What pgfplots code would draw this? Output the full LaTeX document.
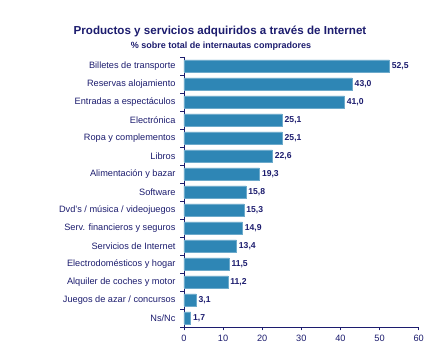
\documentclass[border=0pt]{standalone}
\usepackage{pgfplots}
\pgfplotsset{compat=1.18}
\usepackage{fontspec}
\setmainfont{Liberation Sans}
\definecolor{barblue}{HTML}{2E86B5}
\definecolor{navy}{HTML}{1C1C6E}
\begin{document}
\begin{tikzpicture}[x=1pt,y=1pt]
\useasboundingbox (0,0) rectangle (440,358);
\node[text=navy,font=\fontsize{11.6}{13}\selectfont\bfseries] at (220,327) {Productos y servicios adquiridos a través de Internet};
\node[text=navy,font=\fontsize{9}{10}\selectfont\bfseries] at (221,312) {\% sobre total de internautas compradores};
\begin{axis}[
  at={(184pt,31pt)}, anchor=south west,
  scale only axis, width=234.7pt, height=270pt,
  xmin=0, xmax=60, ymin=-0.5, ymax=14.5,
  y dir=reverse,
  axis lines*=left,
  axis line style={navy, line width=0.8pt},
  xtick={0,10,...,60},
  ytick={-0.5,0.5,...,14.5},
  yticklabels={},
  extra y ticks={0,...,14},
  extra y tick labels={Billetes de transporte,Reservas alojamiento,Entradas a espectáculos,Electrónica,Ropa y complementos,Libros,Alimentación y bazar,Software,Dvd's / música / videojuegos,Serv. financieros y seguros,Servicios de Internet,Electrodomésticos y hogar,Alquiler de coches y motor,Juegos de azar / concursos,Ns/Nc},
  extra y tick style={major tick length=0pt, tick style={draw=none}},
  tick align=outside,
  major tick length=3.5pt,
  tick style={navy, line width=0.8pt},
  tick label style={text=navy, font=\fontsize{9.2}{10}\selectfont},
  /pgf/number format/assume math mode=true,
  yticklabel style={xshift=-5pt},
  xticklabel style={yshift=-1pt},
]
\addplot[xbar, bar width=12pt, fill=barblue, draw=barblue!70!white, line width=0.4pt,
  nodes near coords,
  nodes near coords style={text=navy, font=\fontsize{8.6}{9}\selectfont\bfseries, anchor=west, xshift=-1pt,
    /pgf/number format/.cd, fixed, fixed zerofill, precision=1, use comma, assume math mode=true},
] coordinates {
(52.5,0) (43.0,1) (41.0,2) (25.1,3) (25.1,4) (22.6,5) (19.3,6) (15.8,7)
(15.3,8) (14.9,9) (13.4,10) (11.5,11) (11.2,12) (3.1,13) (1.7,14)
};
\end{axis}
\end{tikzpicture}
\end{document}
